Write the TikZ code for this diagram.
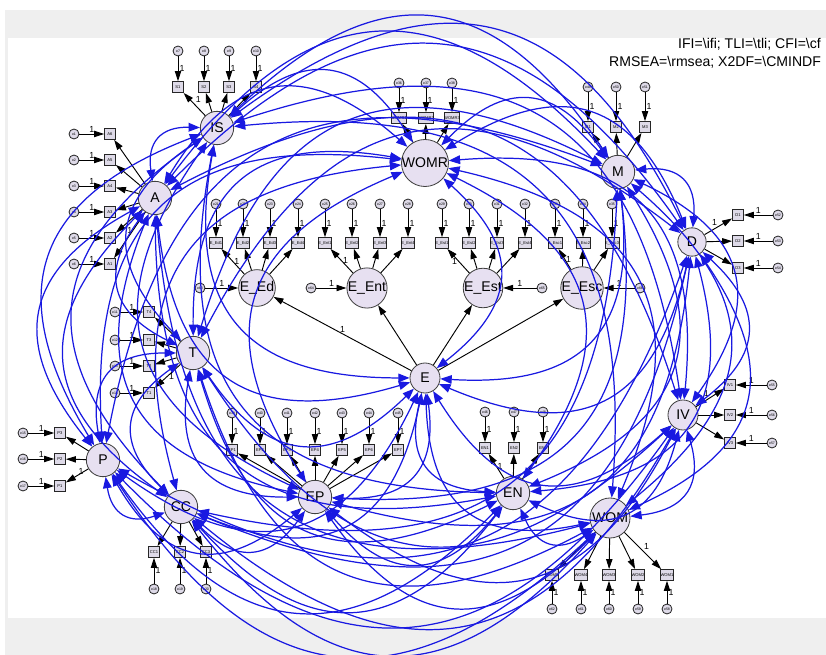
\documentclass[tikz,border=0pt]{standalone}
\usepackage{fontspec}
\setmainfont{Liberation Sans}
\usetikzlibrary{arrows.meta}
\definecolor{lav}{RGB}{231,224,241}
\definecolor{lavg}{RGB}{222,218,232}
\definecolor{covblue}{RGB}{25,25,225}
\definecolor{panelgray}{RGB}{239,239,239}
\begin{document}
\begin{tikzpicture}[x=0.03cm,y=-0.03cm,
  lat/.style={circle,draw=black!75,fill=lav,line width=0.7pt,inner sep=0pt,minimum size=1cm,font=\fontsize{12}{13}\selectfont},
  ind/.style={rectangle,draw=black!85,fill=lavg,line width=0.7pt,inner sep=0pt,minimum size=0.33cm,font=\fontsize{3.5}{4}\selectfont},
  err/.style={circle,draw=black!85,fill=lavg,line width=0.7pt,inner sep=0pt,minimum size=0.3cm,font=\fontsize{3}{3.5}\selectfont},
  arr/.style={-{Triangle[length=0.3cm,width=0.19cm]},line width=0.8pt,black},
  cov/.style={{Triangle[length=0.34cm,width=0.26cm]}-{Triangle[length=0.34cm,width=0.26cm]},line width=1.05pt,covblue},
  one/.style={font=\fontsize{7.5}{8}\selectfont,inner sep=1pt}]
\useasboundingbox (0,0) rectangle (826,655);
\fill[white] (0,0) rectangle (826,655);
\fill[panelgray] (5,10) rectangle (826,655);
\fill[white] (8,38) rectangle (826,618);

\node[anchor=base west,inner sep=0pt,font=\fontsize{12}{14}\selectfont] (fit1) at (678,49) {IFI=\textbackslash ifi; TLI=\textbackslash tli; CFI=\textbackslash cf};
\node[anchor=base west,inner sep=0pt,font=\fontsize{12}{14}\selectfont] (fit2) at (609,67) {RMSEA=\textbackslash rmsea; X2DF=\textbackslash CMINDF};

% latent variables
\node[lat] (IS) at (217,128) {IS};
\node[lat] (A) at (155,198) {A};
\node[lat,minimum size=1.3cm] (WOMR) at (425,163) {WOMR};
\node[lat] (M) at (618,172) {M};
\node[lat,minimum size=0.85cm] (D) at (692,242) {D};
\node[lat,minimum size=1.1cm] (Eed) at (257,288) {E\_Ed};
\node[lat,minimum size=1.1cm] (Eent) at (367,288) {E\_Ent};
\node[lat,minimum size=1.1cm] (Eest) at (483,288) {E\_Est};
\node[lat,minimum size=1.1cm] (Eesc) at (582,288) {E\_Esc};
\node[lat] (T) at (193,353) {T};
\node[lat,minimum size=0.9cm] (E) at (425,378) {E};
\node[lat,minimum size=0.9cm] (IV) at (683,415) {IV};
\node[lat] (P) at (103,460) {P};
\node[lat] (CC) at (181,507) {CC};
\node[lat] (EP) at (315,497) {EP};
\node[lat] (EN) at (513,493) {EN};
\node[lat,minimum size=1.2cm] (WOM) at (610,518) {WOM};

% IS indicators (top)
\foreach \n/\x/\e in {1/178/7,2/204/8,3/229/9,4/256/10}{
  \node[ind] (S\n) at (\x,87) {S\n};
  \node[err] (eS\n) at (\x,51) {e\e};
  \draw[arr] (eS\n) -- node[one,right]{1} (S\n);
  \draw[arr] (IS) -- (S\n);
}
\path (IS) -- node[one,above right]{1} (S1);

% A indicators (left)
\foreach \n/\y/\e in {6/134/1,5/160/2,4/186/3,3/212/4,2/238/5,1/264/6}{
  \node[ind] (A\n) at (110,\y) {A\n};
  \node[err] (eA\n) at (74,\y) {e\e};
  \draw[arr] (eA\n) -- node[one,above]{1} (A\n);
  \draw[arr] (A) -- (A\n);
}
\path (A) -- node[one,above]{1} (A1);

% T indicators (left)
\foreach \n/\y/\e in {4/312/11,3/340/12,2/366/13,1/393/14}{
  \node[ind] (T\n) at (149,\y) {T\n};
  \node[err] (eT\n) at (115,\y) {e\e};
  \draw[arr] (eT\n) -- node[one,above]{1} (T\n);
  \draw[arr] (T) -- (T\n);
}
\path (T) -- node[one,right]{1} (T1);

% P indicators (left)
\foreach \n/\y/\e in {3/433/15,2/459/16,1/486/17}{
  \node[ind] (P\n) at (60,\y) {P\n};
  \node[err] (eP\n) at (23,\y) {e\e};
  \draw[arr] (eP\n) -- node[one,above]{1} (P\n);
  \draw[arr] (P) -- (P\n);
}
\path (P) -- node[one,above right]{1} (P1);

% CC indicators (bottom)
\foreach \n/\x/\e in {1/154/18,2/180/19,3/206/20}{
  \node[ind] (CC\n) at (\x,552) {CC\n};
  \node[err] (eCC\n) at (\x,589) {e\e};
  \draw[arr] (eCC\n) -- node[one,right]{1} (CC\n);
  \draw[arr] (CC) -- (CC\n);
}

% E_Ed, E_Ent, E_Est, E_Esc indicators (top)
\foreach \n/\x/\e in {1/216/21,2/243/22,3/270/23,4/298/24}{
  \node[ind] (Ed\n) at (\x,243) {E\_Ed\n};
  \node[err] (eEd\n) at (\x,204) {e\e};
  \draw[arr] (eEd\n) -- node[one,right]{1} (Ed\n);
  \draw[arr] (Eed) -- (Ed\n);
}
\path (Eed) -- node[one,right]{1} (Ed1);
\foreach \n/\x/\e in {1/325/25,2/352/26,3/380/27,4/408/28}{
  \node[ind] (Ent\n) at (\x,243) {E\_Ent\n};
  \node[err] (eEnt\n) at (\x,204) {e\e};
  \draw[arr] (eEnt\n) -- node[one,right]{1} (Ent\n);
  \draw[arr] (Eent) -- (Ent\n);
}
\path (Eent) -- node[one,right]{1} (Ent1);
\foreach \n/\x/\e in {1/442/29,2/469/30,3/497/31,4/525/32}{
  \node[ind] (Est\n) at (\x,243) {E\_Est\n};
  \node[err] (eEst\n) at (\x,204) {e\e};
  \draw[arr] (eEst\n) -- node[one,right]{1} (Est\n);
  \draw[arr] (Eest) -- (Est\n);
}
\path (Eest) -- node[one,left]{1} (Est1);
\foreach \n/\x/\e in {1/555/33,2/583/34,3/612/35}{
  \node[ind] (Esc\n) at (\x,243) {E\_Esc\n};
  \node[err] (eEsc\n) at (\x,204) {e\e};
  \draw[arr] (eEsc\n) -- node[one,right]{1} (Esc\n);
  \draw[arr] (Eesc) -- (Esc\n);
}
\path (Eesc) -- node[one,right]{1} (Esc1);

% WOMR indicators (top)
\foreach \n/\x/\e in {1/399/36,2/426/37,3/452/38}{
  \node[ind] (WR\n) at (\x,118) {WOMR\n};
  \node[err] (eWR\n) at (\x,83) {e\e};
  \draw[arr] (eWR\n) -- node[one,right]{1} (WR\n);
  \draw[arr] (WOMR) -- (WR\n);
}

% EP indicators (top)
\foreach \n/\x/\e in {1/232/39,2/260/40,3/287/41,4/315/42,5/342/43,6/369/44,7/398/45}{
  \node[ind] (EP\n) at (\x,450) {EP\n};
  \node[err] (eEP\n) at (\x,413) {e\e};
  \draw[arr] (eEP\n) -- node[one,right]{1} (EP\n);
  \draw[arr] (EP) -- (EP\n);
}

% EN indicators (top)
\foreach \n/\x/\e in {1/485/46,2/514/47,3/543/48}{
  \node[ind] (EN\n) at (\x,448) {EN\n};
  \node[err] (eEN\n) at (\x,412) {e\e};
  \draw[arr] (eEN\n) -- node[one,right]{1} (EN\n);
  \draw[arr] (EN) -- (EN\n);
}
\path (EN) -- node[one,right]{1} (EN1);

% M indicators (top)
\foreach \n/\x/\e in {1/588/49,2/616/50,3/645/51}{
  \node[ind] (M\n) at (\x,127) {M\n};
  \node[err] (eM\n) at (\x,87) {e\e};
  \draw[arr] (eM\n) -- node[one,right]{1} (M\n);
  \draw[arr] (M) -- (M\n);
}

% D indicators (right)
\foreach \n/\y/\e in {1/215/52,2/241/53,3/268/54}{
  \node[ind] (D\n) at (738,\y) {D\n};
  \node[err] (eD\n) at (778,\y) {e\e};
  \draw[arr] (eD\n) -- node[one,above]{1} (D\n);
  \draw[arr] (D) -- (D\n);
}
\path (D) -- node[one,above left]{1} (D1);

% IV indicators (right)
\foreach \n/\y/\e in {1/385/55,2/415/56,3/443/57}{
  \node[ind] (IV\n) at (730,\y) {IV\n};
  \node[err] (eIV\n) at (772,\y) {e\e};
  \draw[arr] (eIV\n) -- node[one,above]{1} (IV\n);
  \draw[arr] (IV) -- (IV\n);
}
\path (IV) -- node[one,above left]{1} (IV1);

% WOM indicators (bottom)
\foreach \n/\x/\e in {5/552/62,4/581/61,3/609/60,2/638/59,1/667/58}{
  \node[ind] (W\n) at (\x,575) {WOM\n};
  \node[err] (eW\n) at (\x,609) {e\e};
  \draw[arr] (eW\n) -- node[one,right]{1} (W\n);
  \draw[arr] (WOM) -- (W\n);
}
\path (WOM) -- node[one,above right]{1} (W1);

% second order
\node[err] (e63) at (200,288) {e63};
\node[err] (e64) at (311,288) {e64};
\node[err] (e65) at (542,288) {e65};
\node[err] (e66) at (640,288) {e66};
\draw[arr] (e63) -- node[one,above]{1} (Eed);
\draw[arr] (e64) -- node[one,above]{1} (Eent);
\draw[arr] (e65) -- node[one,above]{1} (Eest);
\draw[arr] (e66) -- node[one,above]{1} (Eesc);
\draw[arr] (E) -- node[one,above]{1} (Eed);
\draw[arr] (E) -- (Eent);
\draw[arr] (E) -- (Eest);
\draw[arr] (E) -- (Eesc);

% covariances
\def\latlist{IS/217/128,A/155/198,T/193/353,P/103/460,CC/181/507,EP/315/497,EN/513/493,WOM/610/518,IV/683/415,D/692/242,M/618/172,WOMR/425/163,E/425/378}
\foreach \a/\ax/\ay [count=\i] in \latlist {
  \foreach \b/\bx/\by [count=\j] in \latlist {
    \ifnum\j>\i
      \pgfmathsetmacro\cr{((\bx-\ax)/100)*((330-\ay)/100)-((\by-\ay)/100)*((410-\ax)/100)}
      \pgfmathsetmacro\ang{\cr>0 ? 50 : -50}
      \draw[cov] (\a) to[bend left=\ang,looseness=1.4] (\b);
    \fi
  }
}
\end{tikzpicture}
\end{document}
